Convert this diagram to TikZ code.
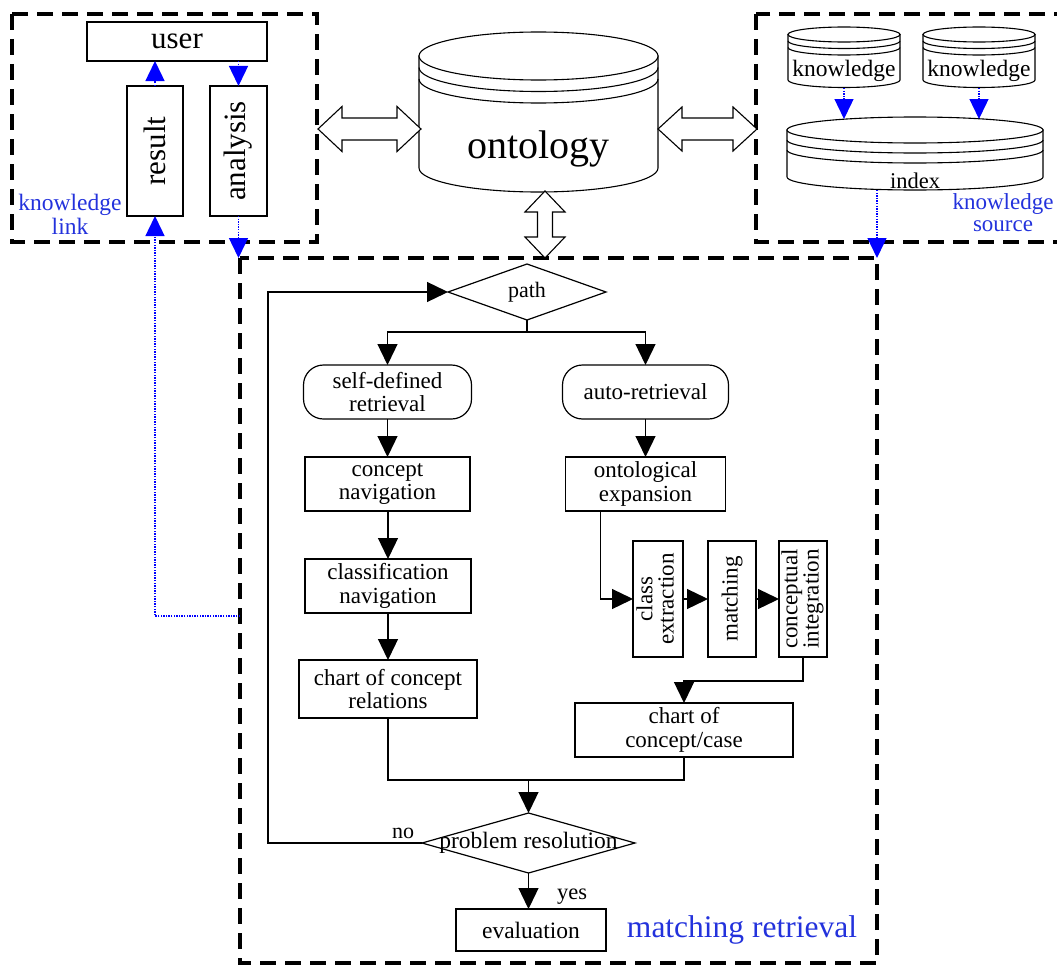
\documentclass[tikz,border=0pt]{standalone}
\usepackage{fontspec}
\usepackage{graphicx}
\setmainfont{Liberation Serif}
\usetikzlibrary{arrows.meta,shapes.geometric,calc}
\definecolor{linkblue}{RGB}{35,50,220}
\newcommand\fsz[2]{\fontsize{#1pt}{#2pt}\selectfont}
\tikzset{
  % stacked-disc database drum: radius x / radius y / side height / stripe gap
  pics/drum/.style args={#1/#2/#3/#4}{code={
    \draw[line width=1.1pt, fill=white] (-#1,0) -- (-#1,#3)
      arc[start angle=180, end angle=0, x radius=#1, y radius=#2] -- (#1,0) -- cycle;
    \draw[line width=1.1pt, fill=white] (0,0) ellipse [x radius=#1, y radius=#2];
    \draw[line width=1.1pt] (-#1,#4) arc[start angle=180, end angle=0, x radius=#1, y radius=#2];
    \draw[line width=1.1pt] (-#1,2*#4) arc[start angle=180, end angle=0, x radius=#1, y radius=#2];
  }},
  % hollow two-headed arrow: length / head length / head half width / shaft half width
  pics/hdarrow/.style args={#1/#2/#3/#4}{code={
    \draw[line width=1.1pt, fill=white, line join=miter]
      (0,0) -- (#2,#3) -- (#2,#4) -- ({#1-#2},#4) -- ({#1-#2},#3) -- (#1,0)
      -- ({#1-#2},-#3) -- ({#1-#2},-#4) -- (#2,-#4) -- (#2,-#3) -- cycle;
  }},
}
\begin{document}
\begin{tikzpicture}[x=1pt, y=-1pt,
  every node/.style={inner sep=0pt, outer sep=0pt},
  blk/.style={draw, line width=1.2pt, fill=white, align=center, font=\fsz{23}{23.5}},
  rblk/.style={blk, rounded corners=20pt},
  vblk/.style={blk, minimum height=116pt, font=\fsz{23}{20}},
  dec/.style={shape=diamond, draw, line width=1.2pt, fill=white},
  flow/.style={line width=1.3pt, -{Triangle[length=21pt,width=20pt]}},
  wire/.style={line width=1.3pt},
  bflow/.style={draw=blue, line width=1.4pt, dash pattern=on 1.4pt off 1.2pt, -{Triangle[length=20pt,width=19pt]}},
  zone/.style={line width=4pt, dash pattern=on 16pt off 9pt},
  bluetext/.style={text=linkblue},
]
\useasboundingbox (0,0) rectangle (1057,966);
\clip (0,0) rectangle (1057,966);

% dashed regions
\draw[zone] (12,14) rectangle (317,242);
\draw[zone] (756,14) rectangle (1085,242);
\draw[zone] (240,258) rectangle (877,963);
\coordinate (mtl) at (240,258);
\coordinate (mtr) at (877,258);
\coordinate (ret) at (240,616);

% knowledge link
\node[blk, font=\fsz{31}{31}, minimum width=180pt, minimum height=39pt] (user) at (177,41.5) {user};
\node[blk, font=\fsz{31}{31}, minimum width=56pt, minimum height=130pt] (result) at (155,151) {\rotatebox{90}{result}};
\node[blk, font=\fsz{31}{31}, minimum width=57pt, minimum height=130pt] (analysis) at (238.5,151) {\rotatebox{90}{analysis}};
\node[bluetext, align=center, font=\fsz{23.5}{24}] (klink) at (70,214) {knowledge\\link};

% ontology store
\pic at (538.5,56) {drum=119.5/24/112/11.5};
\node[minimum width=239pt, minimum height=160pt] (onto) at (538.5,112) {};
\node[anchor=base, font=\fsz{40}{40}] (ontolabel) at (538.5,158) {ontology};
\pic at (318,129) {hdarrow=103/24/22.5/11};
\pic at (658,129) {hdarrow=99/24/22/11};
\pic[rotate=-90] at (545,191) {hdarrow=67/21/20/7.5};

% knowledge source
\pic at (844,34.5) {drum=56/7.5/45.5/6.5};
\pic at (979,34.5) {drum=56/7.5/45.5/6.5};
\node[minimum width=112pt, minimum height=61pt] (know1) at (844,57.5) {};
\node[minimum width=112pt, minimum height=61pt] (know2) at (979,57.5) {};
\node[anchor=base, font=\fsz{23.5}{24}] (k1label) at (844,77) {knowledge};
\node[anchor=base, font=\fsz{23.5}{24}] (k2label) at (979,77) {knowledge};
\pic at (915,130) {drum=128/13/47/10};
\node[minimum width=256pt, minimum height=73pt] (index) at (915,153.5) {};
\node[anchor=base, font=\fsz{22.5}{24}] (indexlabel) at (915,188) {index};
\node[bluetext, align=center, font=\fsz{23}{22}] (ksrc) at (1003,213) {knowledge\\source};

% matching retrieval flow
\node[dec, minimum width=158pt, minimum height=56pt] (pathdec) at (527,292) {};
\node[font=\fsz{22}{24}] (pathlabel) at (527,292) {path};
\coordinate (split) at (527,332);
\node[rblk, minimum width=168pt, minimum height=54pt] (selfret) at (387.5,392) {self-defined\\retrieval};
\node[rblk, minimum width=166pt, minimum height=54pt] (autoret) at (645.5,392) {auto-retrieval};
\node[blk, minimum width=165pt, minimum height=54pt] (cnav) at (387.5,484) {concept\\navigation};
\node[blk, minimum width=160pt, minimum height=54pt] (ontoexp) at (645.5,484) {ontological\\expansion};
\node[blk, minimum width=166pt, minimum height=54pt] (clsnav) at (388,586) {classification\\navigation};
\node[blk, minimum width=178pt, minimum height=58pt] (chartrel) at (388,689) {chart of concept\\relations};
\node[vblk, minimum width=50pt] (clsext) at (658,599) {\rotatebox{90}{\begin{tabular}{@{}c@{}}class\\extraction\end{tabular}}};
\node[vblk, minimum width=48pt] (match) at (732,599) {\rotatebox{90}{matching}};
\node[vblk, minimum width=48pt] (integ) at (803,599) {\rotatebox{90}{\begin{tabular}{@{}c@{}}conceptual\\integration\end{tabular}}};
\node[blk, minimum width=218pt, minimum height=54pt] (chartcase) at (684,730) {chart of\\concept/case};
\coordinate (merge) at (528.5,780);
\node[dec, minimum width=213pt, minimum height=60pt] (probres) at (528.5,843) {};
\node[font=\fsz{23.5}{24}] (problabel) at (528.5,843) {problem resolution};
\node[blk, font=\fsz{23.5}{24}, minimum width=150pt, minimum height=42pt] (eval) at (531,930) {evaluation};
\coordinate (loop) at (268,843);
\node[anchor=base, font=\fsz{22}{24}] (nolabel) at (403,838) {no};
\node[anchor=base, font=\fsz{22.5}{24}] (yeslabel) at (572,899) {yes};
\node[bluetext, anchor=base, font=\fsz{31.5}{32}] (mrlabel) at (742,937) {matching retrieval};

% flow connectors
\draw[flow] (probres.west) -- (loop) |- (pathdec.west);
\draw[wire] (pathdec.south) -- (split);
\draw[flow] (split) -| (selfret.north);
\draw[flow] (split) -| (autoret.north);
\draw[flow] (selfret.south) -- (cnav.north);
\draw[flow] (autoret.south) -- (ontoexp.north);
\draw[flow] (cnav.south -| clsnav.north) -- (clsnav.north);
\draw[flow] (clsnav.south) -- (chartrel.north);
\draw[flow] ($(ontoexp.south west)+(35,0)$) |- (clsext.west);
\draw[flow] (clsext.east) -- (match.west);
\draw[flow] (match.east) -- (integ.west);
\draw[flow] (integ.south) -- ++(0,24) -| (chartcase.north);
\draw[wire] (chartrel.south) |- (merge) -| (chartcase.south);
\draw[flow] (merge) -- (probres.north);
\draw[flow] (probres.south) -- (probres.south |- eval.north);

% knowledge links between regions
\draw[bflow] (result.north) -- (result.north |- user.south);
\draw[bflow] (analysis.north |- user.south) -- (analysis.north);
\draw[bflow] (analysis.south) -- (analysis.south |- mtl);
\draw[bflow] (ret) -| (result.south);
\draw[bflow] (know1.south) -- ($(know1.south |- index.north)+(0,2)$);
\draw[bflow] (know2.south) -- ($(know2.south |- index.north)+(0,2)$);
\draw[bflow] (index.south -| mtr) -- (mtr);
\end{tikzpicture}
\end{document}
